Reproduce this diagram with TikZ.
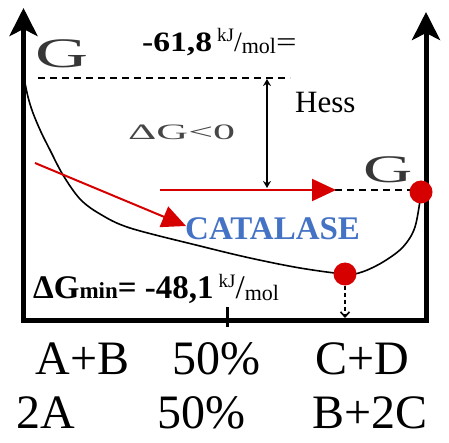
\documentclass[tikz,border=0pt]{standalone}
\usepackage{fontspec}
\setmainfont{Liberation Serif}
\newfontfamily\tnr{Liberation Serif}
\usetikzlibrary{arrows.meta}
\definecolor{dotred}{RGB}{214,0,0}
\definecolor{catblue}{RGB}{68,114,196}
\definecolor{ggray}{RGB}{55,55,55}
\definecolor{lgray}{RGB}{70,70,70}
\newcommand{\fs}[1]{\fontsize{#1}{#1}\selectfont}
\tikzset{
  axisline/.style={line width=5pt, line join=miter,
     {Stealth[length=28pt,width=28pt,inset=7pt]}-{Stealth[length=28pt,width=28pt,inset=7pt]}},
  levelline/.style={dashed, dash pattern=on 7pt off 5pt, line width=1.3pt},
  curveline/.style={line width=1.6pt},
  redarrow/.style={draw=dotred, line width=2pt, -{Triangle[length=24pt,width=22pt]}, color=dotred},
  reddot/.style={circle, fill=dotred, minimum size=23pt, inner sep=0pt},
  txt/.style={inner sep=0pt, anchor=base west, font=\tnr},
  bigtxt/.style={inner sep=0pt, anchor=base, font=\tnr\fs{48}},
  hessarrow/.style={line width=1.6pt, {Stealth[length=7pt,width=8pt]}-{Stealth[length=7pt,width=8pt]}},
  smallarrow/.style={dashed, dash pattern=on 4pt off 3pt, line width=1.6pt, -{Straight Barb[length=5pt,width=9pt]}}
}
\begin{document}
\begin{tikzpicture}[x=1pt,y=-1pt]
\useasboundingbox (0,0) rectangle (449,443);
% axes
\coordinate (yTop) at (23.5,8);
\coordinate (origin) at (23.5,320);
\coordinate (xEnd) at (426,320);
\coordinate (rTop) at (426,12);
\draw[axisline] (yTop) -- (origin) -- (xEnd) -- (rTop);
\coordinate (tickT) at (227.5,307);
\coordinate (tickB) at (227.5,327);
\draw[line width=3pt] (tickT) -- (tickB);
% level lines
\coordinate (l1a) at (38,78);
\coordinate (l1b) at (290,78);
\draw[levelline] (l1a) -- (l1b);
\coordinate (l2a) at (203,190);
\coordinate (l2b) at (421,190);
\draw[levelline] (l2a) -- (l2b);
% Hess arrow
\coordinate (hT) at (267,79);
\coordinate (hB) at (267,188);
\draw[hessarrow] (hT) -- (hB);
% curve
\draw[curveline] plot[smooth, tension=0.55] coordinates {(24,78) (28,97) (33,113) (41,132) (50,150) (63,175) (80,199) (100,214) (130,228) (200,246) (250,258) (300,268) (345,274) (362,272) (383,262) (403,247) (415,227) (421,193)};
% red dots
\node[reddot] (dmin) at (345,274) {};
\node[reddot] (dright) at (421,192) {};
\coordinate (dminB) at (345,318);
\draw[smallarrow] (dmin.south) -- (dminB);
% red arrows
\coordinate (ra1) at (35,163);
\coordinate (ra1e) at (186,226);
\draw[redarrow] (ra1) -- (ra1e);
\coordinate (ra2) at (160,190);
\coordinate (ra2e) at (336,190);
\draw[redarrow] (ra2) -- (ra2e);
% texts
\node[txt, text=ggray] (gl) at (35,68) {\fs{42}\scalebox{1.75}[1]{G}};
\node[txt, text=ggray] (gr) at (363,183) {\fs{39}\scalebox{1.75}[1]{G}};
\node[txt, text=lgray] (dg) at (128,140) {\fs{22}\scalebox{2}[1]{ΔG<0}};
\node[txt] (hess) at (295,113) {\fs{31}Hess};
\node[txt, text=catblue] (cat) at (185,240) {\fs{33}\bfseries CATALASE};
\node[txt] (top) at (142,52) {\fs{28}\scalebox{1.2}[1]{\bfseries -61,8}\hspace{5pt}\raisebox{10pt}{\fs{19}kJ}/\raisebox{-2pt}{\fs{22}mol}\scalebox{1.3}[1]{=}};
\node[txt] (gmin) at (33,298) {\fs{33}\bfseries ΔG{\fs{23}min}= -48,1\hspace{5pt}\mdseries\raisebox{10pt}{\fs{19}kJ}/\raisebox{-2pt}{\fs{22}mol}};
\node[bigtxt] (ab) at (82.5,374) {A+B};
\node[bigtxt] (p1) at (216,374) {50\%};
\node[bigtxt] (cd) at (362,374) {C+D};
\node[bigtxt] (a2) at (46,428) {2A};
\node[bigtxt] (p2) at (201,428) {50\%};
\node[bigtxt] (b2c) at (370,428) {B+2C};
\end{tikzpicture}
\end{document}
